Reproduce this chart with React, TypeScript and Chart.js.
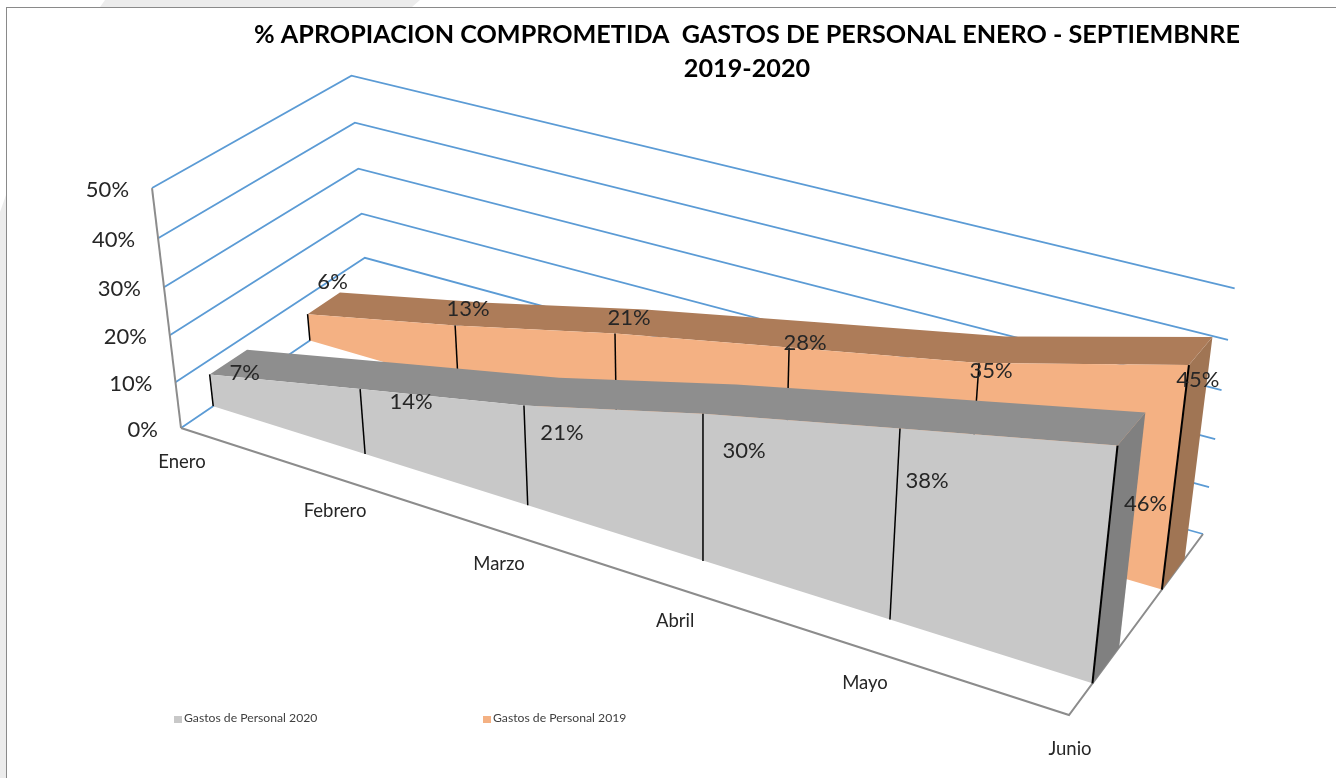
import React, { useEffect, useRef } from "react";
import { Chart, registerables } from "chart.js";

Chart.register(...registerables);

const categories = ["Enero", "Febrero", "Marzo", "Abril", "Mayo", "Junio"];
const values2020 = [7, 14, 21, 30, 38, 46];
const values2019 = [6, 13, 21, 28, 35, 45];
const valueTicks = [0, 10, 20, 30, 40, 50];
const titleLines = [
  "% APROPIACION COMPROMETIDA  GASTOS DE PERSONAL ENERO - SEPTIEMBNRE",
  "2019-2020",
];
const seriesNames = ["Gastos de Personal 2020", "Gastos de Personal 2019"];

// ---- projection of the 3-D box (months, depth, percent) on to the page
const FONT = "Lato, 'Open Sans', sans-serif";
const FL = [181, 428], FR = [1069, 715], BR = [1203, 534], BL = [368, 301];
const VP = [682, 4574];
const HEIGHT_K = -0.0547;
const HEIGHT_TAPER = 0.044;
const AXIS_MAX = 50;

const dx1 = FR[0] - BR[0], dx2 = BL[0] - BR[0], sx = FL[0] - FR[0] + BR[0] - BL[0];
const dy1 = FR[1] - BR[1], dy2 = BL[1] - BR[1], sy = FL[1] - FR[1] + BR[1] - BL[1];
const den = dx1 * dy2 - dx2 * dy1;
const g = (sx * dy2 - dx2 * sy) / den;
const h = (dx1 * sy - sx * dy1) / den;
const a = FR[0] - FL[0] + g * FR[0], b = BL[0] - FL[0] + h * BL[0], c = FL[0];
const d = FR[1] - FL[1] + g * FR[1], e = BL[1] - FL[1] + h * BL[1], f = FL[1];

function project(u: number, v: number, pct: number) {
  const z = (pct / AXIS_MAX) * HEIGHT_K * (1 - HEIGHT_TAPER * u);
  const w = g * u + h * v + 1 + z;
  return {
    x: (a * u + b * v + c + z * VP[0]) / w,
    y: (d * u + e * v + f + z * VP[1]) / w,
  };
}

const monthU = (i: number) => {
  const s = i / (categories.length - 1);
  return s + 0.015 * s * (1 - s);
};

function stroke(data: { x: number; y: number }[], color: string, width: number) {
  return {
    data,
    showLine: true,
    fill: false,
    borderColor: color,
    borderWidth: width,
    pointRadius: 0,
    tension: 0,
    clip: false,
  };
}

function ribbon(values: number[], vFront: number, vBack: number, fronts: string[], label: string) {
  const last = values.length - 1;
  const front = values.map((p, i) => project(monthU(i), vFront, p));
  const back = values.map((p, i) => project(monthU(i), vBack, p));
  const floor = values.map((_, i) => project(monthU(i), vFront, 0));
  const face = (data: { x: number; y: number }[], color: string, name?: string) => ({
    label: name,
    data,
    backgroundColor: color,
    borderColor: "transparent",
    borderWidth: 0,
    fill: "shape",
    showLine: true,
    pointRadius: 0,
    tension: 0,
    clip: false,
  });
  const sets: any[] = [
    face([back[last], project(1, vBack, 0), floor[last], front[last]], fronts[2]),
    face([...front, ...[...back].reverse()], fronts[1]),
    face([...front, ...[...floor].reverse()], fronts[0], label),
  ];
  values.forEach((_, i) => {
    sets.push(stroke([floor[i], front[i]], "#000000", i === last ? 2 : 1.5));
  });
  return sets;
}

const GRID = "#5b9bd5";
const AXIS = "#8c8c8c";

const gridSets = valueTicks.map((t) =>
  stroke([project(0, 0, t), project(0, 1, t), project(1, 1, t)], GRID, 1.8)
);
const axisSets = [
  stroke([project(0, 0, 0), project(0, 0, AXIS_MAX)], AXIS, 2),
  stroke([project(0, 0, 0), project(1, 0, 0), project(1, 1, 0)], AXIS, 2),
];

const GRAY = "#c8c8c8";
const ORANGE = "#f4b183";
const V_2019 = [0.67, 0.85];
const V_2020 = [0.16, 0.35];
const orange = ribbon(values2019, V_2019[0], V_2019[1], [ORANGE, "#ad7c59", "#a07554"], seriesNames[1]);
const gray = ribbon(values2020, V_2020[0], V_2020[1], [GRAY, "#8e8e8e", "#808080"], seriesNames[0]);

const datasets: any[] = [...gridSets, ...axisSets, ...orange, ...gray].map((s, i, all) => ({
  ...s,
  order: all.length - i,
}));

// label placement relative to the top of each front edge
const nudge2020 = [[35, -2], [51, 13], [38, 27], [41, 37], [27, 52], [28, 58]];
const nudge2019 = [[25, -32], [13, -17], [14, -15], [16, -5], [12, 8], [9, 15]];

const textPlugin = {
  id: "boxText",
  afterDatasetsDraw(chart: any) {
    const ctx = chart.ctx;
    const sx2 = chart.scales.x, sy2 = chart.scales.y;
    const put = (text: string, p: { x: number; y: number }, dx: number, dy: number, align: CanvasTextAlign, size: number, color = "#262626") => {
      ctx.font = `${size}px ${FONT}`;
      ctx.fillStyle = color;
      ctx.textAlign = align;
      ctx.textBaseline = "middle";
      ctx.fillText(text, sx2.getPixelForValue(p.x) + dx, sy2.getPixelForValue(p.y) + dy);
    };
    ctx.save();
    valueTicks.forEach((t) => put(`${t}%`, project(0, 0, t), -23, 2, "right", 22));
    categories.forEach((n, i) => put(n, project(monthU(i), 0, 0), 1, 34, "center", 18.5));
    values2019.forEach((p, i) => put(`${p}%`, project(monthU(i), V_2019[0], p), nudge2019[i][0], nudge2019[i][1], "center", 22));
    values2020.forEach((p, i) => put(`${p}%`, project(monthU(i), V_2020[0], p), nudge2020[i][0], nudge2020[i][1], "center", 22));
    // legend
    [GRAY, ORANGE].forEach((col, i) => {
      const x = i === 0 ? 174 : 483;
      ctx.fillStyle = col;
      ctx.fillRect(x, 716, 8, 7);
      put(seriesNames[i], { x: x + 10, y: 718 }, 0, 0, "left", 12.2, "#404040");
    });
    ctx.restore();
  },
};

export default function App() {
  const ref = useRef<HTMLCanvasElement>(null);
  useEffect(() => {
    document.body.style.margin = "0";
    document.body.style.overflow = "hidden";
    const chart = new Chart(ref.current!, {
      type: "scatter",
      data: { datasets },
      plugins: [textPlugin],
      options: {
        animation: false,
        responsive: false,
        events: [],
        layout: { padding: { left: 158, top: 0, right: 0, bottom: 0 } },
        scales: {
          x: { type: "linear", min: 158, max: 1336, display: false },
          y: { type: "linear", min: 86, max: 778, reverse: true, display: false },
        },
        plugins: {
          tooltip: { enabled: false },
          legend: { display: false },
          title: {
            display: true,
            text: titleLines,
            color: "#000000",
            font: { family: FONT, size: 25.2, weight: "bold", lineHeight: 34 / 25.2 },
            padding: { top: 18, bottom: 0 },
          },
        },
      } as any,
    } as any);
    return () => chart.destroy();
  }, []);
  return (
    <div style={{ position: "fixed", left: 0, top: 0, width: 1336, height: 778, background: "#ffffff", overflow: "hidden" }}>
      <div style={{ position: "absolute", left: 0, top: 0, width: 1336, height: 778, background: "#ececec", clipPath: "polygon(105px 0, 420px 0, 412px 7px, 6px 7px, 6px 778px, 0 778px, 0 212px, 6px 195px, 6px 7px, 100px 7px)" }} />
      <div style={{ position: "absolute", left: 6, top: 7, right: 0, bottom: 0, borderLeft: "1px solid #8a8a8a", borderTop: "1px solid #8a8a8a" }} />
      <canvas ref={ref} width={1336} height={778} style={{ position: "absolute", left: 0, top: 0, display: "block" }} />
    </div>
  );
}
